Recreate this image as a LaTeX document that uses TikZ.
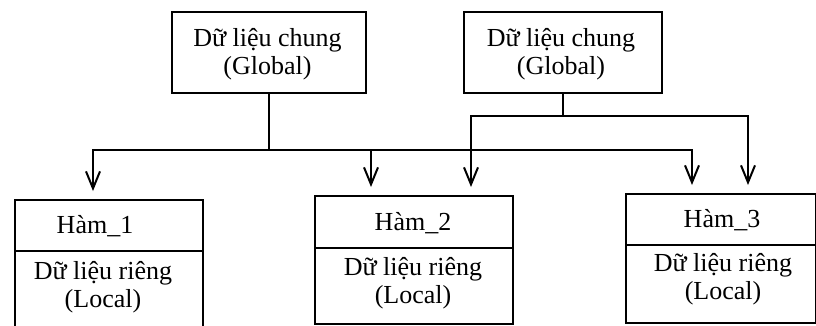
\documentclass[tikz,border=0pt]{standalone}
\usepackage{fontspec}
\setmainfont{Liberation Serif}
\usetikzlibrary{arrows.meta}
\begin{document}
\begin{tikzpicture}[x=1pt,y=-1pt,
  box/.style={draw, line width=2pt, inner sep=0pt, anchor=north west},
  txt/.style={font=\fontsize{26}{28.5}\selectfont, align=center, inner sep=0pt},
  wire/.style={line width=2pt},
  arr/.style={wire, -{Straight Barb[length=17pt,width=14pt,line width=2pt]}, shorten >=8pt}
]
\useasboundingbox (0,0) rectangle (816,325);

% shared data blocks
\node[box, minimum width=194pt, minimum height=81pt] (g1) at (171,11) {};
\node[box, minimum width=198pt, minimum height=81pt] (g2) at (463,11) {};
\node[txt] (g1x) at (267.5,54) {Dữ liệu chung\\(Global)};
\node[txt] (g2x) at (561,54) {Dữ liệu chung\\(Global)};

% functions: title part and local data part
\node[box, minimum width=188pt, minimum height=51pt] (h1t) at (14,199) {};
\node[box, minimum width=188pt, minimum height=80pt] (h1b) at (14,250) {};
\node[box, minimum width=198pt, minimum height=52pt] (h2t) at (314,195) {};
\node[box, minimum width=198pt, minimum height=76pt] (h2b) at (314,247) {};
\node[box, minimum width=190pt, minimum height=51pt] (h3t) at (625,193) {};
\node[box, minimum width=190pt, minimum height=78pt] (h3b) at (625,244) {};

\node[txt, anchor=base] (h1x) at (95,233) {Hàm\_1};
\node[txt, anchor=base] (h2x) at (413,230) {Hàm\_2};
\node[txt, anchor=base] (h3x) at (722,227) {Hàm\_3};
\node[txt] (h1l) at (103,287) {Dữ liệu riêng\\(Local)};
\node[txt] (h2l) at (413,283) {Dữ liệu riêng\\(Local)};
\node[txt] (h3l) at (723,279) {Dữ liệu riêng\\(Local)};

% bus from the first shared block
\coordinate (j1) at (g1.south |- 0,150);
\coordinate (p1) at (93,150);
\coordinate (p2) at (371,150);
\coordinate (p3) at (692,150);
\draw[wire] (g1.south) -- (j1);
\draw[wire, line cap=rect] (p1) -- (p3);
\draw[arr] (p1) -- (p1 |- h1t.north);
\draw[arr] (p2) -- (p2 |- h2t.north);
\draw[arr] (p3) -- (p3 |- h3t.north);

% bus from the second shared block
\coordinate (j2) at (g2.south |- 0,116);
\coordinate (q1) at (471,116);
\coordinate (q2) at (748,116);
\draw[wire] (g2.south) -- (j2);
\draw[wire, line cap=rect] (q1) -- (q2);
\draw[arr] (q1) -- (q1 |- h2t.north);
\draw[arr] (q2) -- (q2 |- h3t.north);
\end{tikzpicture}
\end{document}
